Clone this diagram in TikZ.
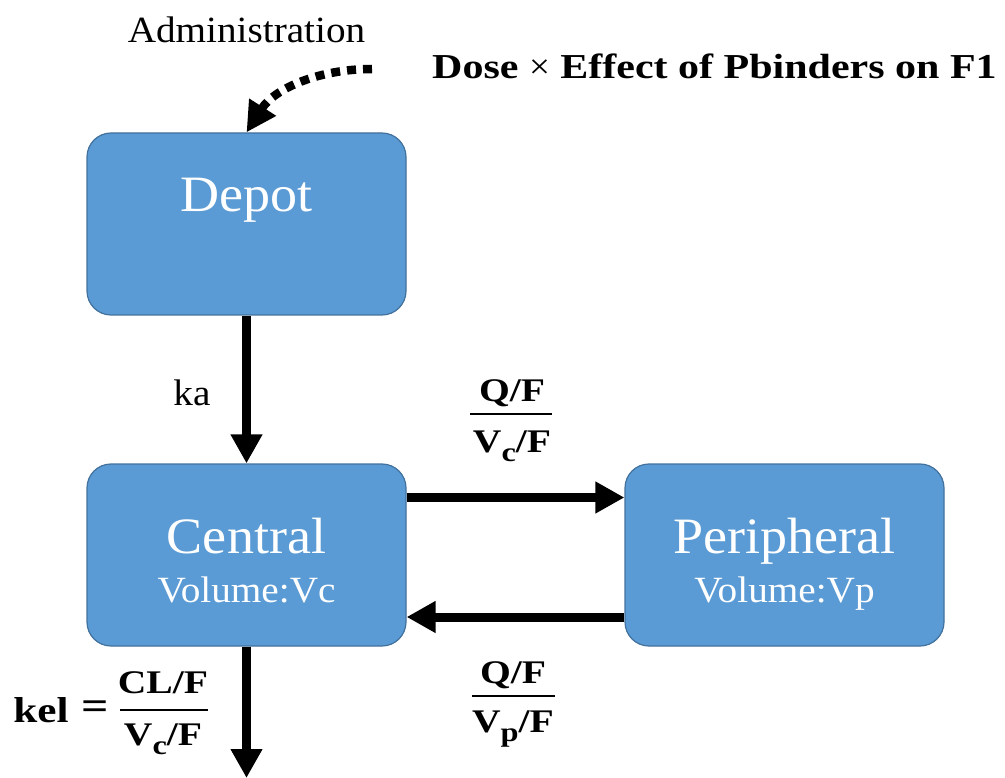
\documentclass[tikz,border=0pt]{standalone}
\usepackage{fontspec}
\setmainfont{Liberation Serif}[FakeStretch=1.06, BoldFeatures={FakeStretch=1.2}]
\usetikzlibrary{arrows.meta}
\definecolor{boxfill}{HTML}{5B9BD5}
\definecolor{boxline}{HTML}{41719C}
\newcommand{\sbx}[1]{\raisebox{-0.3em}{\fontsize{27}{27}\selectfont #1}}
\tikzset{
  comp/.style={draw=boxline, line width=1.2pt, fill=boxfill, rounded corners=24pt,
    minimum width=319pt, minimum height=182pt, inner sep=0pt},
  ttl/.style={text=white, font=\fontsize{51}{56}\selectfont, inner sep=0pt, anchor=base},
  sub/.style={text=white, font=\fontsize{37}{42}\selectfont, inner sep=0pt, anchor=base},
  lbl/.style={font=\fontsize{37}{42}\selectfont, inner sep=0pt, anchor=base},
  blbl/.style={font=\fontsize{33}{38}\selectfont\bfseries, inner sep=0pt, anchor=base},
  fracrule/.style={line width=2.6pt},
  flow/.style={line width=9pt, -{Triangle[length=29pt,width=30pt]}},
  dots/.style={line width=8.5pt, dash pattern=on 9pt off 7pt, line cap=butt, -{Triangle[length=30pt,width=30pt]}},
}
\begin{document}
\begin{tikzpicture}[x=1pt,y=-1pt]
\useasboundingbox (0,0) rectangle (1005,778);
\node[comp] (depot) at (246.5,224) {};
\node[comp] (central) at (246.5,555) {};
\node[comp] (periph) at (784.5,555) {};
\node[ttl] (tdepot) at (246.5,212) {Depot};
\node[ttl] (tcentral) at (246.5,553) {Central};
\node[sub] (vc) at (246.5,602) {Volume:Vc};
\node[ttl] (tperiph) at (784.5,553) {Peripheral};
\node[sub] (vp) at (784.5,602) {Volume:Vp};
\node[lbl] (admin) at (246.5,43) {Administration};
\node[font=\fontsize{35}{40}\selectfont\bfseries, inner sep=0pt, anchor=base west] (dose) at (432,79) {Dose {\normalfont×} Effect of Pbinders on F1};
\node[lbl] (ka) at (192,406) {ka};
% fraction Q/F over Vc/F
\node[blbl] (q1n) at (512,402) {Q/F};
\node[blbl] (q1d) at (512,452) {V\sbx{c}/F};
\draw[fracrule] (470,414) -- (552,414);
% fraction Q/F over Vp/F
\node[blbl] (q2n) at (513,683) {Q/F};
\node[blbl] (q2d) at (513,732) {V\sbx{p}/F};
\draw[fracrule] (472,696) -- (555,696);
% kel
\node[blbl, font=\fontsize{36}{40}\selectfont\bfseries] (keltxt) at (41,722) {kel};
\node[inner sep=0pt, font=\fontsize{40}{44}\selectfont\bfseries] (eq) at (95,710) {=};
\node[blbl] (celn) at (163,693) {CL/F};
\node[blbl] (celd) at (163,745) {V\sbx{c}/F};
\draw[fracrule] (120,710) -- (208,710);
\coordinate (r1) at (0,497.5);
\coordinate (r2) at (0,617);
\coordinate (bottom) at (246.5,778);
\coordinate (dstart) at (372,69);
\draw[flow] (depot.south) -- (central.north);
\draw[flow] (central.east |- r1) -- (periph.west |- r1);
\draw[flow] (periph.west |- r2) -- (central.east |- r2);
\draw[flow] (central.south) -- (bottom);
\draw[dots] (dstart) .. controls (320,69) and (275,88) .. (depot.north);
\end{tikzpicture}
\end{document}
